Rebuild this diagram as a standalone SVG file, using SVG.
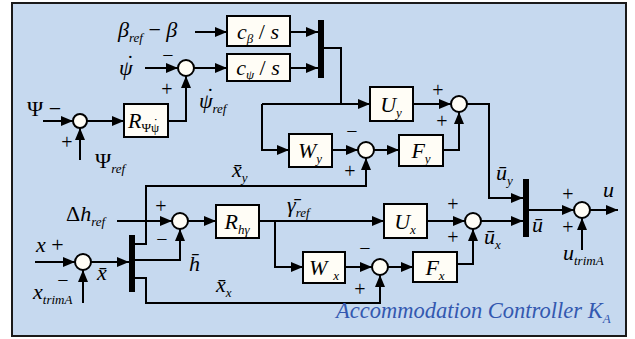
<svg xmlns="http://www.w3.org/2000/svg" width="635" height="339" viewBox="0 0 635 339">
<defs>
<marker id="ah" markerWidth="12" markerHeight="10" refX="12" refY="5" orient="auto" markerUnits="userSpaceOnUse"><path d="M0,0 L12,5 L0,10 z" fill="#000"/></marker>
<style>
.bg{fill:#c6d9ef;stroke:#1a1a1a;stroke-width:2}
.box{fill:#fffdf6;stroke:#000;stroke-width:2}
.sum{fill:#fffdf6;stroke:#000;stroke-width:2}
.mux{fill:#000}
.c{fill:none;stroke:#000;stroke-width:2}
.a{marker-end:url(#ah)}
.t{font-family:"Liberation Serif","Times New Roman",serif;font-style:italic;font-size:22px;fill:#000}
.s{font-size:13px}
.u{font-style:normal}
.g{font-family:"Liberation Serif","Times New Roman",serif;font-size:20px;fill:#000;text-anchor:middle}
.m{text-anchor:middle}
.title{font-family:"Liberation Serif","Times New Roman",serif;font-style:italic;font-size:22.5px;fill:#3358b0}
</style>
</defs>
<rect class="bg" x="12" y="3" width="614" height="333"/>

<g id="connectors">
<polyline class="c a" points="195,32 227,32"/>
<polyline class="c a" points="290,32 318,32"/>
<polyline class="c a" points="145,68 178,68"/>
<polyline class="c a" points="194,68 227,68"/>
<polyline class="c a" points="290,68 318,68"/>
<polyline class="c a" points="168,121 186,121 186,76"/>
<polyline class="c a" points="43,121 73,121"/>
<polyline class="c a" points="87,121 124,121"/>
<polyline class="c a" points="80,160 80,128"/>
<polyline class="c" points="324,48 341,48 341,104"/>
<polyline class="c a" points="262,104 370,104"/>
<polyline class="c a" points="262,104 262,150 289,150"/>
<polyline class="c a" points="413,104 451,104"/>
<polyline class="c a" points="467,104 489,104 489,198 523,198"/>
<polyline class="c a" points="332,150 358,150"/>
<polyline class="c a" points="374,150 399,150"/>
<polyline class="c a" points="443,150 459,150 459,112"/>
<polyline class="c a" points="135,244 146,244 146,186 366,186 366,158"/>
<polyline class="c a" points="117,221 172,221"/>
<polyline class="c a" points="188,221 216,221"/>
<polyline class="c a" points="259,221 384,221"/>
<polyline class="c a" points="275,221 275,267 303,267"/>
<polyline class="c a" points="135,260 180,260 180,229"/>
<polyline class="c a" points="35,262 75,262"/>
<polyline class="c a" points="91,262 129,262"/>
<polyline class="c a" points="83,303 83,270"/>
<polyline class="c a" points="135,278 146,278 146,303 380,303 380,275"/>
<polyline class="c a" points="345,267 372,267"/>
<polyline class="c a" points="388,267 413,267"/>
<polyline class="c a" points="457,264 473,264 473,229"/>
<polyline class="c a" points="427,221 465,221"/>
<polyline class="c a" points="481,221 523,221"/>
<polyline class="c a" points="529,210 574,210"/>
<polyline class="c a" points="590,210 618,210"/>
<polyline class="c a" points="582,250 582,218"/>
</g>

<g id="cbeta"><rect class="box" x="227" y="16" width="63" height="30"/><text class="t m" x="258" y="39">c<tspan class="s" dy="4">β</tspan><tspan dy="-4" class="u"> / </tspan>s</text></g>
<g id="cpsi"><rect class="box" x="227" y="54" width="63" height="27"/><text class="t m" x="258" y="75">c<tspan class="s" dy="4">ψ</tspan><tspan dy="-4" class="u"> / </tspan>s</text></g>
<g id="mux1"><rect class="mux" x="318" y="20" width="6" height="58"/></g>
<g id="sum_psi"><circle class="sum" cx="186" cy="68" r="8"/></g>
<g id="sum_Psi"><circle class="sum" cx="80" cy="121" r="7"/></g>
<g id="RPsi"><rect class="box" x="124" y="104" width="44" height="33"/><text class="t" x="128" y="128">R<tspan class="s u" dy="4">Ψψ</tspan><tspan class="s" dx="-6.5" dy="-5">˙</tspan></text></g>
<g id="Uy"><rect class="box" x="370" y="87" width="43" height="34"/><text class="t m" x="391" y="112">U<tspan class="s" dy="5">y</tspan></text></g>
<g id="sum_y"><circle class="sum" cx="459" cy="104" r="8"/></g>
<g id="Wy"><rect class="box" x="289" y="134" width="43" height="33"/><text class="t m" x="310" y="158">W<tspan class="s" dy="5">y</tspan></text></g>
<g id="sum_wy"><circle class="sum" cx="366" cy="150" r="8"/></g>
<g id="Fy"><rect class="box" x="399" y="135" width="44" height="31"/><text class="t m" x="421" y="158">F<tspan class="s" dy="5">y</tspan></text></g>
<g id="sum_h"><circle class="sum" cx="180" cy="221" r="8"/></g>
<g id="Rhg"><rect class="box" x="216" y="205" width="43" height="33"/><text class="t m" x="237" y="229">R<tspan class="s" dy="5">hγ</tspan></text></g>
<g id="Ux"><rect class="box" x="384" y="204" width="43" height="34"/><text class="t m" x="405" y="229">U<tspan class="s" dy="5">x</tspan></text></g>
<g id="sum_x"><circle class="sum" cx="473" cy="221" r="8"/></g>
<g id="Wx"><rect class="box" x="303" y="252" width="42" height="31"/><text class="t m" x="324" y="275">W<tspan class="s" dx="6" dy="5">x</tspan></text></g>
<g id="sum_wx"><circle class="sum" cx="380" cy="267" r="8"/></g>
<g id="Fx"><rect class="box" x="413" y="252" width="44" height="30"/><text class="t m" x="435" y="275">F<tspan class="s" dy="5">x</tspan></text></g>
<g id="mux2"><rect class="mux" x="129" y="235" width="6" height="57"/></g>
<g id="sum_in"><circle class="sum" cx="83" cy="262" r="8"/></g>
<g id="mux3"><rect class="mux" x="523" y="179" width="6" height="58"/></g>
<g id="sum_out"><circle class="sum" cx="582" cy="210" r="8"/></g>

<g id="labels">
<text class="t" x="118" y="37">β<tspan class="s" dy="5">ref</tspan><tspan class="u" dy="-5"> − </tspan>β</text>
<text class="t" x="119" y="75">ψ<tspan dx="-7.5" dy="-5">˙</tspan></text>
<text class="g" x="168" y="62">−</text>
<text class="g" x="167" y="96">+</text>
<text class="t" x="199" y="108">ψ<tspan dx="-7.5" dy="-5">˙</tspan><tspan class="s" dy="10">ref</tspan></text>
<text class="t u" x="27" y="116">Ψ −</text>
<text class="g" x="67" y="149">+</text>
<text class="t u" x="95" y="168">Ψ<tspan class="s" style="font-style:italic" dy="5">ref</tspan></text>
<text class="g" x="352" y="138">−</text>
<text class="g" x="350" y="178">+</text>
<text class="g" x="438" y="97">+</text>
<text class="g" x="442" y="128">+</text>
<text class="t" x="232" y="177">x̄<tspan class="s" dy="5">y</tspan></text>
<text class="t" x="66" y="221"><tspan class="u">Δ</tspan>h<tspan class="s" dy="5">ref</tspan></text>
<text class="g" x="161" y="213">+</text>
<text class="g" x="162" y="246">−</text>
<text class="t" x="287" y="212">γ̄<tspan class="s" dy="5">ref</tspan></text>
<text class="t" x="189" y="271">h̄</text>
<text class="t" x="36" y="252">x<tspan class="u"> +</tspan></text>
<text class="g" x="63" y="287">−</text>
<text class="t" x="33" y="299">x<tspan class="s" dy="5">trimA</tspan></text>
<text class="t" x="97" y="280">x̄</text>
<text class="t" x="216" y="292">x̄<tspan class="s" dy="5">x</tspan></text>
<text class="g" x="365" y="255">−</text>
<text class="g" x="360" y="296">+</text>
<text class="g" x="453" y="211">+</text>
<text class="g" x="453" y="244">+</text>
<text class="t" x="496" y="180">ū<tspan class="s" dy="5">y</tspan></text>
<text class="t" x="484" y="244">ū<tspan class="s" dy="5">x</tspan></text>
<text class="t" x="532" y="232">ū</text>
<text class="t" x="603" y="197">u</text>
<text class="g" x="568" y="201">+</text>
<text class="g" x="568" y="234">+</text>
<text class="t" x="563" y="260">u<tspan class="s" dy="5">trimA</tspan></text>
<text class="title" x="336" y="318">Accommodation Controller K<tspan class="s" dy="5">A</tspan></text>
</g>
</svg>
